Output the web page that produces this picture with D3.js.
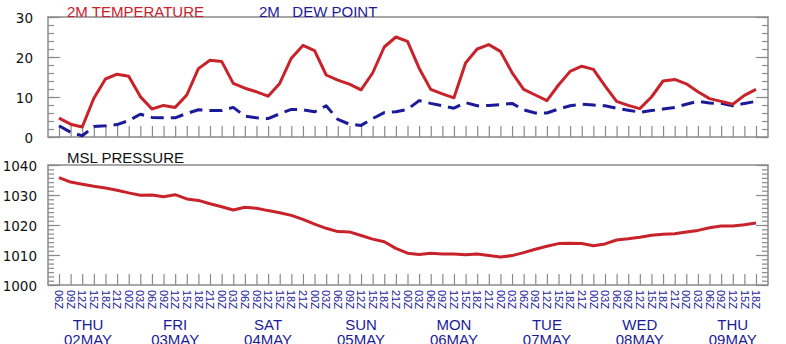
<!DOCTYPE html>
<html>
<head>
<meta charset="utf-8">
<script src="https://cdn.jsdelivr.net/npm/d3@7"></script>
<style>
  body { margin: 0; background: #fff; }
  svg { display: block; }
</style>
</head>
<body>
<svg class="meteogram" width="786" height="344"></svg>
<script>
// 3-hourly steps, 02 May 06Z .. 09 May 18Z
const startTime = "2019-05-02T06:00:00Z";
const endTime = "2019-05-09T18:00:00Z";

const dayNames = ["THU", "FRI", "SAT", "SUN", "MON", "TUE", "WED", "THU"];
const dayDates = ["02MAY", "03MAY", "04MAY", "05MAY", "06MAY", "07MAY", "08MAY", "09MAY"];
const dayLabelTimes = ["2019-05-02T13:30:00Z", "2019-05-03T12:00:00Z", "2019-05-04T12:00:00Z",
  "2019-05-05T12:00:00Z", "2019-05-06T12:00:00Z", "2019-05-07T12:00:00Z",
  "2019-05-08T12:00:00Z", "2019-05-09T12:00:00Z"];

const temperature = [4.7, 3.2, 2.5, 9.7, 14.5, 15.7, 15.2, 10.1, 7.0, 7.9,
  7.4, 10.5, 17.1, 19.2, 18.9, 13.4, 12.2, 11.3, 10.2, 13.4,
  19.7, 22.9, 21.6, 15.5, 14.2, 13.2, 11.8, 16.0, 22.5, 25.0,
  23.9, 17.2, 11.9, 10.8, 9.8, 18.5, 22.0, 23.1, 21.4, 16.1,
  11.9, 10.5, 9.1, 13.0, 16.4, 17.7, 16.9, 12.8, 8.9, 7.9,
  7.1, 10.0, 14.0, 14.4, 13.3, 11.3, 9.6, 8.9, 8.2, 10.4, 11.9];

const dewPoint = [2.8, 1.2, 0.3, 2.6, 2.8, 3.1, 4.1, 5.7, 4.9, 4.8,
  4.8, 5.9, 6.8, 6.6, 6.6, 7.4, 5.2, 4.8, 4.6, 5.8,
  6.9, 6.8, 6.3, 7.8, 4.4, 3.2, 2.9, 4.6, 6.1, 6.3,
  6.9, 9.1, 8.4, 7.8, 7.2, 8.6, 7.8, 7.9, 8.1, 8.4,
  6.8, 6.0, 6.0, 7.0, 7.8, 8.2, 8.0, 7.8, 7.2, 6.7,
  6.2, 6.6, 7.0, 7.4, 8.2, 8.9, 8.5, 8.4, 7.8, 8.4, 8.9];

const pressure = [1035.8, 1034.3, 1033.6, 1032.9, 1032.3, 1031.6, 1030.7, 1029.9, 1030.0, 1029.4,
  1030.1, 1028.7, 1028.2, 1027.1, 1026.1, 1025.0, 1025.9, 1025.6, 1024.8, 1024.1,
  1023.2, 1021.9, 1020.3, 1018.9, 1017.8, 1017.7, 1016.5, 1015.3, 1014.4, 1012.2,
  1010.6, 1010.2, 1010.6, 1010.3, 1010.3, 1010.1, 1010.3, 1009.8, 1009.3, 1009.8,
  1010.8, 1011.9, 1012.9, 1013.8, 1013.9, 1013.8, 1013.1, 1013.7, 1015.0, 1015.4,
  1015.9, 1016.6, 1016.9, 1017.1, 1017.7, 1018.2, 1019.1, 1019.7, 1019.7, 1020.1, 1020.7];

const tempTicks = [0, 10, 20, 30];
const pressureTicks = [1000, 1010, 1020, 1030, 1040];

const times = d3.utcHour.every(3).range(new Date(startTime), new Date(+new Date(endTime) + 1));

const svg = d3.select(".meteogram");
const left = 48, right = 768;
const red = "#c8222b", navy = "#1b1b9a", frameColor = "#8a8a8a";
const tickFont = "DejaVu Sans, sans-serif";
const textFont = "Liberation Sans, Arial, sans-serif";

const x = d3.scaleUtc()
    .domain([times[0], times[times.length - 1]])
    .range([59, 756]);

// one panel: frame, inward ticks on left/right/bottom, y labels
function panel(top, bottom, domain, major, minorCount, labelPad) {
    const y = d3.scaleLinear().domain(domain).range([bottom, top]);
    const g = svg.append("g");

    const minor = [];
    const step = (major[1] - major[0]) / minorCount;
    for (let v = domain[0]; v <= domain[1] + 1e-6; v += step) minor.push(v);

    const styleAxis = sel => {
        sel.select(".domain").remove();
        sel.selectAll("line").attr("stroke", frameColor).attr("stroke-width", 1.2);
    };

    g.append("g").attr("transform", `translate(${left},0)`)
        .call(d3.axisLeft(y).tickValues(minor).tickSize(-6).tickFormat(""))
        .call(styleAxis);
    g.append("g").attr("transform", `translate(${right},0)`)
        .call(d3.axisRight(y).tickValues(minor).tickSize(-6).tickFormat(""))
        .call(styleAxis);

    const la = g.append("g").attr("transform", `translate(${left},0)`)
        .call(d3.axisLeft(y).tickValues(major).tickSizeInner(-12).tickSizeOuter(0)
            .tickPadding(labelPad).tickFormat(d3.format("d")))
        .call(styleAxis);
    la.selectAll("text")
        .attr("font-family", tickFont)
        .attr("font-size", 13.5)
        .attr("fill", "#111")
        .attr("dy", "0.42em");

    g.append("g").attr("transform", `translate(${right},0)`)
        .call(d3.axisRight(y).tickValues(major).tickSize(-12).tickFormat(""))
        .call(styleAxis);

    g.append("g").attr("transform", `translate(0,${bottom})`)
        .call(d3.axisBottom(x).tickValues(times).tickSize(-11).tickFormat(""))
        .call(styleAxis);

    g.append("rect")
        .attr("x", left).attr("y", top)
        .attr("width", right - left).attr("height", bottom - top)
        .attr("fill", "none")
        .attr("stroke", frameColor)
        .attr("stroke-width", 1.5);

    return y;
}

const yT = panel(17, 137, [0, 30], tempTicks, 5, 15);
const yP = panel(165, 285, [1000, 1040], pressureTicks, 7, 11);

function drawLine(values, y, color, dash) {
    const line = d3.line()
        .x((d, i) => x(times[i]))
        .y(d => y(d));
    svg.append("path")
        .datum(values)
        .attr("d", line)
        .attr("fill", "none")
        .attr("stroke", color)
        .attr("stroke-width", 3)
        .attr("stroke-linejoin", "round")
        .attr("stroke-dasharray", dash || null);
}

drawLine(dewPoint, yT, navy, "13,7");
drawLine(temperature, yT, red);
drawLine(pressure, yP, red);

// titles
svg.append("text").attr("x", 67).attr("y", 16.5)
    .attr("font-family", textFont).attr("font-size", 15).attr("fill", red)
    .text("2M TEMPERATURE");
svg.append("text").attr("x", 259).attr("y", 16.5)
    .attr("font-family", textFont).attr("font-size", 15).attr("fill", navy)
    .style("white-space", "pre")
    .text("2M   DEW POINT");
svg.append("text").attr("x", 67).attr("y", 163)
    .attr("font-family", textFont).attr("font-size", 15).attr("fill", "#111")
    .text("MSL PRESSURE");

// hour labels, rotated
const hourFmt = d3.utcFormat("%HZ");
svg.append("g").selectAll("text")
    .data(times)
    .join("text")
    .attr("transform", d => `translate(${x(d)},290) rotate(90)`)
    .attr("dy", "0.35em")
    .attr("font-family", textFont)
    .attr("font-size", 11)
    .attr("fill", navy)
    .text(hourFmt);

// day labels
const days = svg.append("g").selectAll("text")
    .data(dayNames)
    .join("text")
    .attr("text-anchor", "middle")
    .attr("font-family", textFont)
    .attr("font-size", 15)
    .attr("fill", navy);
days.append("tspan")
    .attr("x", (d, i) => x(new Date(dayLabelTimes[i])))
    .attr("y", 330)
    .text(d => d);
days.append("tspan")
    .attr("x", (d, i) => x(new Date(dayLabelTimes[i])))
    .attr("dy", 15)
    .text((d, i) => dayDates[i]);
</script>
</body>
</html>
